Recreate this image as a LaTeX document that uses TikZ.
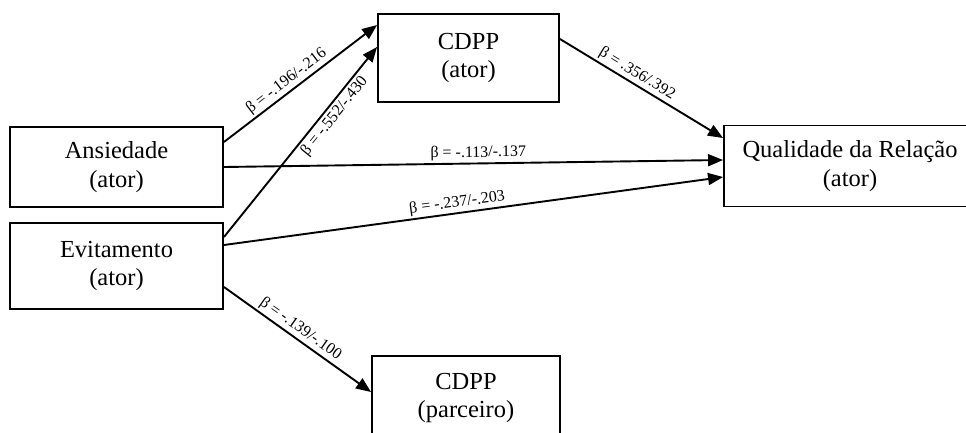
\documentclass[tikz,border=0pt]{standalone}
\usepackage{fontspec}
\setmainfont{Liberation Serif}
\usetikzlibrary{arrows.meta,positioning}

\begin{document}
\begin{tikzpicture}[x=1pt, y=-1pt, line width=1.9pt,
      >={Triangle[length=15pt,width=12pt]},
      var/.style={draw, align=center, inner sep=0pt, font=\fontsize{24.5}{28.5}\selectfont},
      coef/.style={sloped, inner sep=2pt, font=\fontsize{16}{18}\selectfont}]
    \useasboundingbox (0,0) rectangle (966,432);
    \node (anx) [var, minimum width=213pt, minimum height=80pt] at (116.5,167) {Ansiedade\\(ator)};
    \node (avo) [var, minimum width=213pt, minimum height=86pt] at (116.5,266) {Evitamento\\(ator)};
    \node (cdppA) [var, minimum width=181pt, minimum height=88pt] at (468.5,58) {CDPP\\(ator)};
    \node (qual) [var, minimum width=252pt, minimum height=81pt] at (850,166) {Qualidade da Relação\\(ator)};
    \node (cdppP) [var, minimum width=188pt, minimum height=84pt] at (466,398) {CDPP\\(parceiro)};
    \draw[->] ([yshift=25pt]anx.east) -- node[coef, above, pos=.45] {β = -.196/-.216} ([yshift=33pt]cdppA.west);
    \draw[->] ([yshift=29pt]avo.east) -- node[coef, below, pos=.67] {β = -.552/-.430} ([yshift=11pt]cdppA.west);
    \draw[->] ([yshift=19pt]cdppA.east) -- node[coef, above, pos=.44] {β = .356/.392} ([yshift=28pt]qual.west);
    \draw[->] (anx.east) -- node[coef, above, pos=.51] {β = -.113/-.137} ([yshift=6pt]qual.west);
    \draw[->] ([yshift=21pt]avo.east) -- node[coef, above, pos=.47] {β = -.237/-.203} ([yshift=-11pt]qual.west);
    \draw[->] ([yshift=-21pt]avo.east) -- node[coef, above, pos=.48] {β = -.139/-.100} ([yshift=6pt]cdppP.west);
\end{tikzpicture}
\end{document}
